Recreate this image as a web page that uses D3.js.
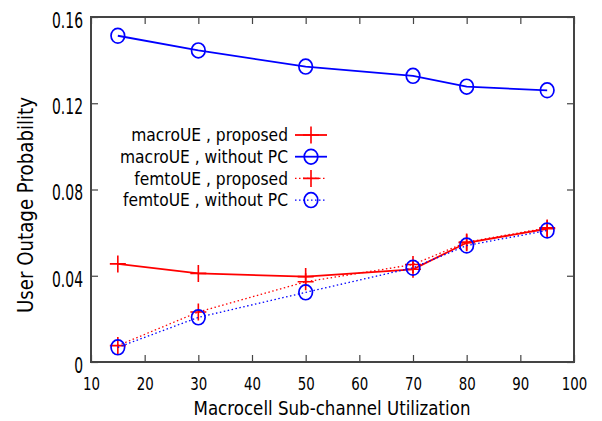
<!DOCTYPE html>
<html>
<head>
<meta charset="utf-8">
<title>User Outage Probability</title>
<script src="https://d3js.org/d3.v7.min.js"></script>
<style>
  body { margin: 0; background: #fff; }
  text { font-family: "DejaVu Sans", sans-serif; fill: #000; }
</style>
</head>
<body>
<div id="chart"></div>
<script>
  // values
  const utilization = [15, 30, 50, 70, 80, 95];
  const macroProposed = [0.0455, 0.0411, 0.0396, 0.0430, 0.0553, 0.0618];
  const macroWithoutPC = [0.1513, 0.1445, 0.1370, 0.1327, 0.1277, 0.1260];
  const femtoProposed = [0.0076, 0.0232, 0.0372, 0.0452, 0.0556, 0.0622];
  const femtoWithoutPC = [0.0068, 0.0207, 0.0323, 0.0437, 0.0540, 0.0610];
  const xTicks = [10, 20, 30, 40, 50, 60, 70, 80, 90, 100];
  const yTicks = [0, 0.04, 0.08, 0.12, 0.16];
  const seriesNames = ["macroUE , proposed", "macroUE , without PC", "femtoUE , proposed", "femtoUE , without PC"];

  const width = 602, height = 421;
  const margin = {top: 17, right: 28, bottom: 59, left: 91};

  const svg = d3.select("#chart").append("svg")
      .attr("width", width)
      .attr("height", height);

  const x = d3.scaleLinear().domain([10, 100]).range([margin.left, width - margin.right]);
  const y = d3.scaleLinear().domain([0, 0.16]).range([height - margin.bottom, margin.top]);

  const series = [
    {name: seriesNames[0], values: macroProposed, color: "#ff0000", dash: null, mark: "plus"},
    {name: seriesNames[1], values: macroWithoutPC, color: "#0000ff", dash: null, mark: "circle"},
    {name: seriesNames[2], values: femtoProposed, color: "#ff0000", dash: "1.5,2.5", mark: "plus"},
    {name: seriesNames[3], values: femtoWithoutPC, color: "#0000ff", dash: "1.5,2.5", mark: "circle"}
  ];

  // the reference font is narrower than DejaVu: squeeze each text by a common factor
  function squeeze(sel, factor) {
    sel.each(function() {
      const w = this.getComputedTextLength();
      d3.select(this).attr("textLength", w * factor).attr("lengthAdjust", "spacingAndGlyphs");
    });
  }
  function factorFor(size, sample, target) {
    const t = svg.append("text").attr("font-size", size).text(sample);
    const f = target / t.node().getComputedTextLength();
    t.remove();
    return f;
  }

  // axes: inward ticks on all four sides
  const tickLen = 7;
  const xLabelSize = 18, yLabelSize = 20.5;
  svg.append("g")
      .attr("transform", `translate(0,${y(0)})`)
      .call(d3.axisBottom(x).tickValues(xTicks).tickSizeInner(-tickLen).tickSizeOuter(0).tickPadding(15))
      .call(g => g.selectAll("text").attr("font-size", xLabelSize)
        .call(squeeze, factorFor(xLabelSize, "30", 17)));
  svg.append("g")
      .attr("transform", `translate(0,${y(0.16)})`)
      .call(d3.axisTop(x).tickValues(xTicks).tickSizeInner(-tickLen).tickSizeOuter(0).tickFormat(""));
  svg.append("g")
      .attr("transform", `translate(${x(10)},0)`)
      .call(d3.axisLeft(y).tickValues(yTicks).tickSizeInner(-tickLen).tickSizeOuter(0).tickPadding(8)
        .tickFormat(d => d === 0 ? "0" : d3.format(".2f")(d)))
      .call(g => g.selectAll("text").attr("font-size", yLabelSize).attr("dy", "0.5em")
        .call(squeeze, factorFor(yLabelSize, "0.12", 31)));
  svg.append("g")
      .attr("transform", `translate(${x(100)},0)`)
      .call(d3.axisRight(y).tickValues(yTicks).tickSizeInner(-tickLen).tickSizeOuter(0).tickFormat(""));

  svg.selectAll(".domain").remove();
  svg.selectAll(".tick line").attr("stroke", "#444").attr("stroke-width", 1.2);

  svg.append("rect")
      .attr("x", x(10)).attr("y", y(0.16))
      .attr("width", x(100) - x(10)).attr("height", y(0) - y(0.16))
      .attr("fill", "none").attr("stroke", "#444").attr("stroke-width", 2);

  // axis titles
  svg.append("text")
      .attr("x", 332).attr("y", 415)
      .attr("text-anchor", "middle").attr("font-size", 19.5)
      .text("Macrocell Sub-channel Utilization")
      .attr("textLength", 277).attr("lengthAdjust", "spacingAndGlyphs");
  svg.append("text")
      .attr("transform", `translate(33,205) rotate(-90)`)
      .attr("text-anchor", "middle").attr("font-size", 20.5)
      .text("User Outage Probability")
      .attr("textLength", 216).attr("lengthAdjust", "spacingAndGlyphs");

  function drawMark(g, mark, color) {
    if (mark === "plus") {
      g.append("path").attr("d", "M-8,0H8M0,-8.5V8.5")
          .attr("stroke", color).attr("stroke-width", 1.6).attr("fill", "none");
    } else {
      g.append("ellipse").attr("rx", 6.8).attr("ry", 7.4)
          .attr("stroke", color).attr("stroke-width", 1.7).attr("fill", "none");
    }
  }

  const line = d3.line().x(d => x(d[0])).y(d => y(d[1]));

  series.forEach(s => {
    const pts = utilization.map((u, i) => [u, s.values[i]]);
    svg.append("path")
        .datum(pts)
        .attr("d", line)
        .attr("fill", "none")
        .attr("stroke", s.color)
        .attr("stroke-width", s.dash ? 1.3 : 1.8)
        .attr("stroke-dasharray", s.dash);
    pts.forEach(p => {
      const g = svg.append("g").attr("transform", `translate(${x(p[0])},${y(p[1])})`);
      drawMark(g, s.mark, s.color);
    });
  });

  // legend
  const legendSize = 17.5;
  const legendFactor = factorFor(legendSize, seriesNames[1], 168);
  const legend = svg.append("g");
  series.forEach((s, i) => {
    const ly = 135 + i * 21.7;
    legend.append("text")
        .attr("x", 288).attr("y", ly).attr("dy", "0.36em")
        .attr("text-anchor", "end").attr("font-size", legendSize)
        .text(s.name)
        .call(squeeze, legendFactor);
    legend.append("line")
        .attr("x1", 295).attr("x2", 327).attr("y1", ly).attr("y2", ly)
        .attr("stroke", s.color)
        .attr("stroke-width", s.dash ? 1.3 : 1.8)
        .attr("stroke-dasharray", s.dash);
    drawMark(legend.append("g").attr("transform", `translate(311,${ly})`), s.mark, s.color);
  });
</script>
</body>
</html>
